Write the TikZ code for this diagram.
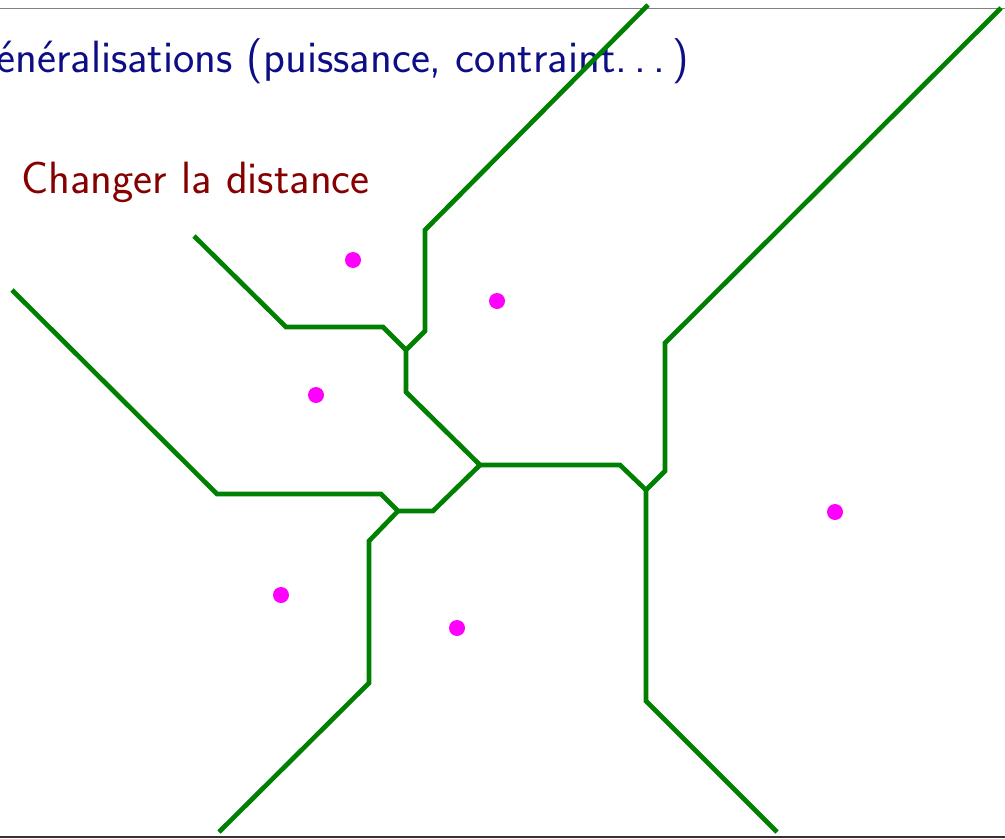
\documentclass[tikz,border=0pt]{standalone}
\usepackage{fontspec}
\definecolor{titleblue}{rgb}{0.05,0.05,0.52}
\definecolor{darkred}{rgb}{0.52,0.0,0.0}
\definecolor{edgegreen}{rgb}{0.0,0.5,0.0}
\definecolor{sitemagenta}{rgb}{1,0,1}
\newcommand{\spdots}{.\kern\fontdimen3\font.\kern\fontdimen3\font.\kern\fontdimen3\font}
\begin{document}
\begin{tikzpicture}[x=0.03cm,y=-0.03cm,
  edge/.style={draw=edgegreen,line width=4pt},
  site/.style={fill=sitemagenta,draw=none},
  rule/.style={draw=gray,line width=1.2pt}]
\useasboundingbox (0,0) rectangle (1005,839);
\clip (0,0) rectangle (1005,839);
% frame rules
\coordinate (rl1) at (0,8.5);
\coordinate (rr1) at (1005,8.5);
\coordinate (rl2) at (0,837);
\coordinate (rr2) at (1005,837);
\draw[rule] (rl1) -- (rr1);
\draw[rule,draw=black!80] (rl2) -- (rr2);
% title and text
\node[anchor=base east,inner sep=0pt,text=titleblue,font=\sffamily\fontsize{38.6}{44}\selectfont] (title) at (689,72) {Généralisations (puissance, contraint\spdots)};
\node[anchor=base west,inner sep=0pt,text=darkred,font=\sffamily\fontsize{38.6}{44}\selectfont] (sub) at (21,193) {Changer la distance};
% Voronoi vertices
\coordinate (T1) at (648,5);
\coordinate (V1) at (425,230);
\coordinate (V2) at (425,331);
\coordinate (J1) at (406,350);
\coordinate (V3) at (406,392);
\coordinate (J2) at (480,465);
\coordinate (V4) at (620,465);
\coordinate (J3) at (646,490);
\coordinate (V5) at (665,471);
\coordinate (V6) at (665,343);
\coordinate (T2) at (1001,8);
\coordinate (W1) at (383,327);
\coordinate (W2) at (286,327);
\coordinate (E1) at (194,236);
\coordinate (J4) at (398,511);
\coordinate (V7) at (433,511);
\coordinate (W3) at (381,494);
\coordinate (W4) at (217,494);
\coordinate (E2) at (12,290);
\coordinate (V8) at (369,541);
\coordinate (V9) at (369,683);
\coordinate (E3) at (219,832);
\coordinate (V10) at (646,701);
\coordinate (E4) at (777,832);
% edges
\draw[edge] (T1) -- (V1) -- (V2) -- (J1) -- (V3) -- (J2) -- (V4) -- (J3) -- (V5) -- (V6) -- (T2);
\draw[edge] (J1) -- (W1) -- (W2) -- (E1);
\draw[edge] (J2) -- (V7) -- (J4) -- (W3) -- (W4) -- (E2);
\draw[edge] (J4) -- (V8) -- (V9) -- (E3);
\draw[edge] (J3) -- (V10) -- (E4);
% sites
\fill[site] (353,260) circle (8);
\fill[site] (497,301) circle (8);
\fill[site] (316,395) circle (8);
\fill[site] (835,512) circle (8);
\fill[site] (281,595) circle (8);
\fill[site] (457,628) circle (8);
\end{tikzpicture}
\end{document}
